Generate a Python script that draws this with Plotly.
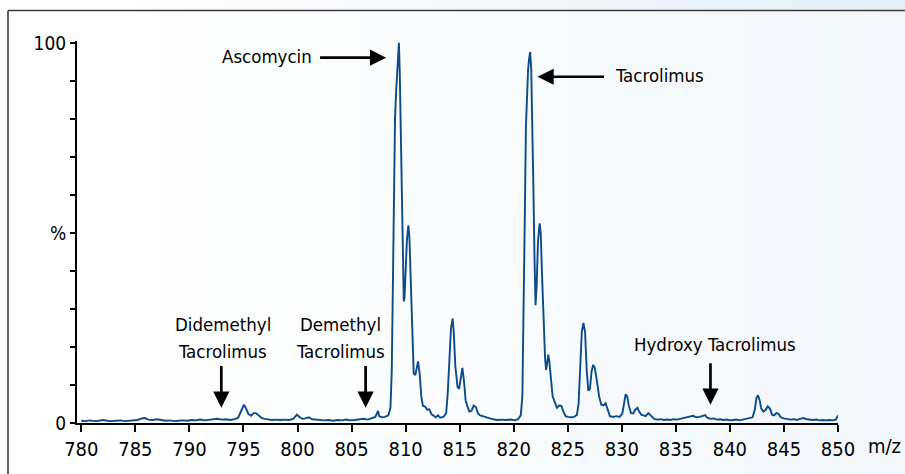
import plotly.graph_objects as go

# ---- data ----
mz = [780.0, 780.4, 780.8, 781.2, 781.6, 782.0, 782.4, 782.8, 783.2, 783.6, 784.0, 784.4, 784.8,
      785.2, 785.6, 785.9, 786.2, 786.6, 787.0, 787.4, 787.8, 788.2, 788.6, 789.0, 789.4, 789.8,
      790.2, 790.6, 791.0, 791.4, 791.8, 792.2, 792.6, 793.0, 793.4, 793.8, 794.2, 794.5, 794.8,
      795.05, 795.25, 795.45, 795.7, 795.95, 796.15, 796.4, 796.7, 797.0, 797.3, 797.6, 798.0,
      798.4, 798.8, 799.2, 799.6, 799.95, 800.2, 800.45, 800.75, 801.05, 801.35, 801.7, 802.1,
      802.5, 802.9, 803.3, 803.7, 804.1, 804.5, 804.9, 805.3, 805.7, 806.1, 806.5, 806.9, 807.2,
      807.45, 807.55, 807.8, 808.1, 808.4, 808.6, 808.72, 808.82, 808.92, 809.02, 809.12, 809.22,
      809.3, 809.38, 809.46, 809.55, 809.65, 809.75, 809.83, 809.9, 810.0, 810.12, 810.25, 810.35,
      810.47, 810.6, 810.75, 810.9, 811.05, 811.15, 811.3, 811.45, 811.6, 811.8, 812.0, 812.2,
      812.4, 812.6, 812.8, 813.0, 813.2, 813.5, 813.75, 813.9, 814.05, 814.2, 814.35, 814.45,
      814.6, 814.8, 814.95, 815.1, 815.25, 815.4, 815.55, 815.7, 815.9, 816.1, 816.3, 816.5,
      816.7, 816.9, 817.2, 817.5, 817.8, 818.1, 818.5, 818.9, 819.3, 819.7, 820.1, 820.4, 820.65,
      820.8, 820.92, 821.03, 821.13, 821.23, 821.33, 821.43, 821.52, 821.62, 821.72, 821.82,
      821.92, 822.02, 822.12, 822.25, 822.4, 822.5, 822.62, 822.75, 822.9, 823.0, 823.1, 823.2,
      823.3, 823.45, 823.6, 823.8, 824.0, 824.2, 824.4, 824.6, 824.8, 825.0, 825.3, 825.6,
      825.85, 826.0, 826.15, 826.3, 826.45, 826.6, 826.75, 826.9, 827.05, 827.2, 827.35, 827.5,
      827.7, 827.9, 828.1, 828.3, 828.5, 828.7, 828.9, 829.2, 829.5, 829.8, 830.05, 830.2,
      830.35, 830.5, 830.65, 830.85, 831.05, 831.25, 831.45, 831.6, 831.8, 832.0, 832.2, 832.45,
      832.6, 832.8, 833.0, 833.3, 833.6, 833.9, 834.2, 834.5, 834.8, 835.1, 835.4, 835.7, 836.0,
      836.3, 836.6, 836.9, 837.2, 837.5, 837.7, 837.9, 838.2, 838.5, 838.8, 839.1, 839.4, 839.7,
      840.0, 840.3, 840.6, 840.9, 841.2, 841.5, 841.8, 842.1, 842.3, 842.45, 842.6, 842.75,
      842.9, 843.1, 843.3, 843.5, 843.7, 843.9, 844.1, 844.3, 844.5, 844.7, 845.0, 845.3, 845.6,
      845.9, 846.2, 846.5, 846.8, 847.1, 847.4, 847.7, 848.0, 848.3, 848.6, 848.9, 849.2, 849.5,
      849.8, 850.0]

intensity = [0.6, 0.5, 0.7, 0.5, 0.6, 0.8, 0.6, 0.5, 0.6, 0.7, 0.5, 0.6, 0.7,
             0.8, 1.2, 1.3, 0.9, 0.8, 1.0, 0.7, 0.6, 0.7, 0.5, 0.6, 0.7, 0.6,
             0.8, 0.7, 0.9, 0.7, 0.8, 1.0, 1.1, 0.9, 1.0, 0.8, 1.0, 1.4, 3.5,
             4.8, 3.8, 2.4, 1.9, 2.6, 2.6, 2.0, 1.3, 1.1, 1.0, 0.8, 0.9,
             0.8, 0.9, 0.8, 1.1, 2.2, 1.5, 1.1, 1.2, 1.5, 1.0, 0.9, 0.8,
             0.7, 0.8, 0.6, 0.8, 0.7, 0.9, 0.7, 0.8, 0.9, 1.1, 0.9, 1.3, 1.6,
             3.2, 1.8, 1.5, 1.6, 2.0, 4.0, 14, 38, 62, 80, 87, 91,
             96, 100, 92, 76, 55, 38, 32, 33, 40, 48, 52, 49,
             38, 24, 13, 12.6, 15.5, 16.2, 13, 7, 4.5, 4.3, 3.5, 3.6,
             2.3, 1.8, 1.5, 2.0, 1.4, 1.6, 2.5, 8, 18, 25, 27.5, 24,
             15, 9.5, 9, 12, 14.5, 11, 6, 4.5, 3.0, 3.2, 4.6, 4.2,
             2.5, 2.0, 1.7, 1.3, 1.2, 1.0, 0.8, 0.9, 0.8, 0.9, 0.7, 1.0, 2.0,
             7, 28, 55, 78, 89, 93, 96, 97.6, 93, 80, 62,
             44, 31, 36, 48, 52.5, 50, 39, 27, 17, 14, 16.5, 18,
             16, 12, 7, 5.5, 4.0, 4.6, 4.5, 3.0, 1.8, 1.6, 1.5, 1.6,
             2.2, 5, 15, 24, 26.3, 24, 14, 8.5, 9, 13.5, 15.3, 14.5,
             11, 7, 4.8, 4.6, 5.2, 3.2, 1.8, 1.6, 1.8, 1.6, 2.5, 5.0,
             7.5, 7.0, 4.5, 2.6, 2.5, 3.5, 4.0, 3.0, 2.2, 2.0, 1.8, 2.6,
             2.2, 1.4, 1.1, 0.9, 1.0, 0.8, 0.9, 0.8, 1.0, 0.9, 1.1, 1.3, 1.5,
             1.8, 1.9, 1.5, 1.6, 1.9, 2.1, 1.4, 1.1, 1.2, 0.9, 1.0, 0.8, 0.9,
             0.7, 0.8, 0.9, 0.7, 0.9, 1.0, 1.2, 1.5, 3.5, 6.5, 7.3, 6.0,
             3.8, 3.0, 3.4, 4.4, 3.8, 2.2, 2.0, 2.6, 2.4, 1.5, 1.2, 1.0, 0.9,
             1.0, 0.8, 1.1, 1.3, 1.0, 0.9, 0.8, 0.9, 0.7, 0.8, 0.7, 0.8, 0.7,
             0.9, 2.0]

x_ticks = [780, 785, 790, 795, 800, 805, 810, 815, 820, 825, 830, 835, 840, 845, 850]
y_ticks = [0, 10, 20, 30, 40, 50, 60, 70, 80, 90, 100]
y_ticktext = ["0", "", "", "", "", "%", "", "", "", "", "100"]

# labels: text, position (data units) and horizontal anchor
label_texts = ["Ascomycin", "Tacrolimus", "Didemethyl", "Tacrolimus", "Demethyl", "Tacrolimus",
               "Hydroxy Tacrolimus"]
label_x = [801.55, 829.15, 793.1, 793.1, 804.0, 804.0, 838.6]
label_y = [96.3, 91.3, 25.8, 18.9, 25.8, 18.9, 20.7]
label_anchor = ["right", "left", "center", "center", "center", "center", "center"]

# arrows: tip (x, y) and tail (ax, ay)
arrow_x = [808.2, 822.2, 792.95, 806.3, 838.2]
arrow_y = [96.1, 91.1, 4.0, 4.0, 4.8]
arrow_ax = [801.95, 828.5, 792.95, 806.3, 838.2]
arrow_ay = [96.1, 91.1, 15.4, 15.4, 16.1]

FONT = "DejaVu Sans Condensed, Liberation Sans Narrow, sans-serif"
W, H = 905, 474
L, R, T, B = 77, 67, 41, 51
pw, ph = W - L - R, H - T - B


def px2paper_x(p):
    return (p - L) / pw


def px2paper_y(p):
    return (H - B - p) / ph


fig = go.Figure()
fig.add_trace(go.Scatter(x=mz, y=intensity, mode="lines",
                         line=dict(color="#0c4a8a", width=1.9), hoverinfo="skip"))

shapes = []
# background gradient strips
n = 40
for i in range(n):
    x0 = W * i / n
    x1 = W * (i + 1) / n + 0.5
    t = max(0.0, (x0 + x1) / 2 - 120) / (W - 120)
    r = int(round(255 + (242 - 255) * t))
    g = int(round(255 + (247 - 255) * t))
    b = int(round(255 + (251 - 255) * t))
    shapes.append(dict(type="rect", xref="paper", yref="paper", layer="below",
                       x0=px2paper_x(x0), x1=px2paper_x(x1),
                       y0=px2paper_y(H + 2), y1=px2paper_y(10.5),
                       fillcolor=f"rgb({r},{g},{b})", line=dict(width=0)))
    r2 = int(round(255 + (229 - 255) * t))
    g2 = int(round(255 + (238 - 255) * t))
    b2 = int(round(255 + (246 - 255) * t))
    shapes.append(dict(type="rect", xref="paper", yref="paper", layer="below",
                       x0=px2paper_x(x0), x1=px2paper_x(x1),
                       y0=px2paper_y(10.5), y1=px2paper_y(-2),
                       fillcolor=f"rgb({r2},{g2},{b2})", line=dict(width=0)))
# frame lines
shapes.append(dict(type="line", xref="paper", yref="paper", layer="below",
                   x0=px2paper_x(8), x1=px2paper_x(W + 2), y0=px2paper_y(10.5), y1=px2paper_y(10.5),
                   line=dict(color="#3c3c3c", width=1.6)))
shapes.append(dict(type="line", xref="paper", yref="paper", layer="below",
                   x0=px2paper_x(8), x1=px2paper_x(8), y0=px2paper_y(10.5), y1=px2paper_y(H + 2),
                   line=dict(color="#3c3c3c", width=1.6)))

annotations = []
for t_, x_, y_, a_ in zip(label_texts, label_x, label_y, label_anchor):
    annotations.append(dict(text=t_, x=x_, y=y_, xref="x", yref="y", xanchor=a_, yanchor="middle",
                            showarrow=False, font=dict(family=FONT, size=18.5, color="#000000")))
for x_, y_, ax_, ay_ in zip(arrow_x, arrow_y, arrow_ax, arrow_ay):
    annotations.append(dict(text="", x=x_, y=y_, ax=ax_, ay=ay_, xref="x", yref="y",
                            axref="x", ayref="y", showarrow=True, arrowhead=2, arrowsize=1.2,
                            arrowwidth=2.7, arrowcolor="#000000", standoff=0, startstandoff=0))
annotations.append(dict(text="m/z", xref="paper", yref="paper",
                        x=px2paper_x(866), y=px2paper_y(446), xanchor="left", yanchor="middle",
                        showarrow=False, font=dict(family=FONT, size=20, color="#000000")))

fig.update_layout(
    width=W, height=H,
    margin=dict(l=L, r=R, t=T, b=B, pad=0),
    paper_bgcolor="#ffffff",
    plot_bgcolor="rgba(0,0,0,0)",
    showlegend=False,
    shapes=shapes,
    annotations=annotations,
    xaxis=dict(range=[779.6, 850], tickvals=x_ticks, ticks="outside", ticklen=7, tickwidth=1.6,
               tickcolor="#000000", showline=True, linecolor="#000000", linewidth=2,
               showgrid=False, zeroline=False, tickfont=dict(family=FONT, size=20, color="#000000")),
    yaxis=dict(range=[0, 100.5], tickvals=y_ticks, ticktext=y_ticktext, ticks="outside", ticklen=5,
               tickwidth=1.6, tickcolor="#000000", showline=True, linecolor="#000000", linewidth=2,
               showgrid=False, zeroline=False, tickfont=dict(family=FONT, size=19, color="#000000")),
)

fig.write_html("out.html", config={"displayModeBar": False},
               post_script="document.body.style.margin='0px';")
